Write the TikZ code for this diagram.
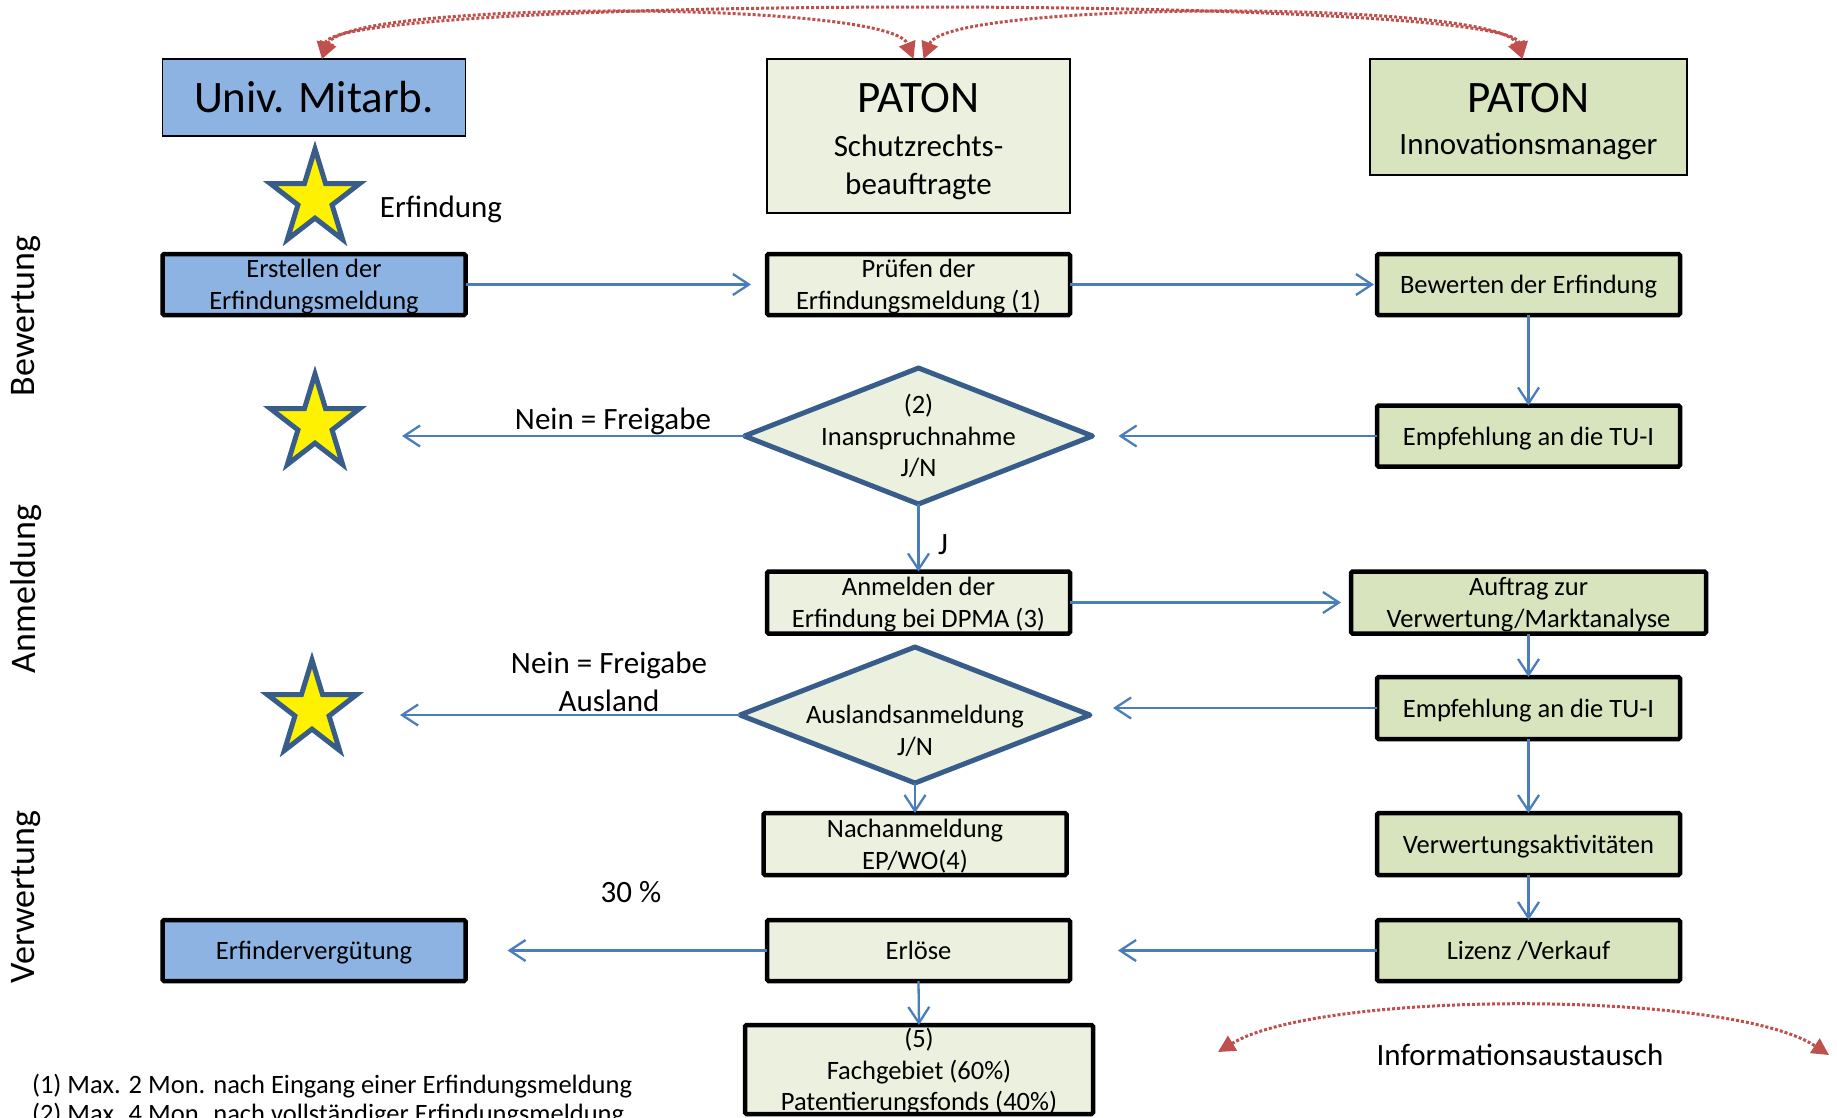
\documentclass[tikz,border=0pt]{standalone}
\usepackage{fontspec}
\setmainfont{Carlito}
\usetikzlibrary{shapes.geometric,arrows.meta}
\definecolor{univblue}{HTML}{8DB3E2}
\definecolor{palegreen}{HTML}{EBF1DE}
\definecolor{midgreen}{HTML}{D7E4BD}
\definecolor{darkblue}{HTML}{385D8A}
\definecolor{arrowblue}{HTML}{4A7EBB}
\definecolor{infored}{HTML}{C0504D}
\begin{document}
\begin{tikzpicture}[x=1pt,y=-1pt,
  every node/.style={inner sep=0pt,outer sep=0pt},
  bodytext/.style={font=\fontsize{26.5}{31.6}\selectfont,align=center},
  labeltext/.style={font=\fontsize{31}{37}\selectfont,align=center},
  sidetext/.style={font=\fontsize{36}{40}\selectfont,rotate=90},
  flowbox/.style={bodytext,text depth=0pt,draw=black,line width=4.5pt,rounded corners=1.5pt,minimum width=303pt,minimum height=61pt},
  leftbox/.style={flowbox,fill=univblue},
  midbox/.style={flowbox,fill=palegreen},
  rightbox/.style={flowbox,fill=midgreen},
  headbox/.style={draw=black,line width=1.6pt,minimum width=303pt},
  decision/.style={diamond,draw=darkblue,fill=palegreen,line width=5pt,line join=round,minimum width=348pt,minimum height=136pt},
  starshape/.style={star,star points=5,star point ratio=2.618,minimum size=100pt,xscale=0.94,draw=darkblue,fill=yellow,line width=5pt},
  flow/.style={draw=arrowblue,line width=2.3pt,-{Straight Barb[length=16pt,width=21pt,line width=2.3pt]}},
  infoarrow/.style={draw=infored,line width=3pt,dash pattern=on 3pt off 2pt,
    {Triangle[length=17pt,width=17pt]}-{Triangle[length=17pt,width=17pt]}}
]
\fill[white] (0,0) rectangle (1837,1117);
\useasboundingbox (0,0) rectangle (1837,1117);

% header boxes
\node[headbox,fill=univblue,minimum height=77pt,font=\fontsize{45}{54}\selectfont] (univ) at (314,97.5) {Univ. Mitarb.};
\node[headbox,fill=palegreen,minimum height=154pt] (p1) at (918.5,136) {};
\node[headbox,fill=midgreen,minimum width=317pt,minimum height=116pt] (p2) at (1528.5,117) {};
\node[font=\fontsize{45}{54}\selectfont] (p1a) at (918.5,98) {PATON};
\node[labeltext] (p1b) at (918.5,146) {Schutzrechts-};
\node[labeltext] (p1c) at (918.5,186) {beauftragte};
\node[font=\fontsize{45}{54}\selectfont] (p2a) at (1528.5,98) {PATON};
\node[labeltext] (p2b) at (1528.5,146) {Innovationsmanager};

% top information arcs
\draw[infoarrow] ([xshift=8pt]univ.north) .. controls (345,0) and (890,0) .. ([xshift=-5pt]p1.north);
\draw[infoarrow] ([xshift=5pt]p1.north) .. controls (947,0) and (1500,0) .. ([xshift=-6pt]p2.north);
\draw[infoarrow] ([xshift=8pt]univ.north) .. controls (335,-5) and (1510,-5) .. ([xshift=-6pt]p2.north);

% side labels
\node[sidetext] (lbew) at (26,316) {Bewertung};
\node[sidetext] (lanm) at (26,589) {Anmeldung};
\node[sidetext] (lver) at (26,897) {Verwertung};

% stars
\node[starshape] (s1) at (315,199) {};
\node[labeltext] (erf) at (441,209) {Erfindung};
\node[starshape] (s2) at (315,424) {};
\node[starshape] (s3) at (312,710) {};

% row 1
\node[leftbox] (erst) at (314,284.5) {Erstellen der\\Erfindungsmeldung};
\node[midbox] (pruef) at (918.5,284.5) {Prüfen der\\Erfindungsmeldung (1)};
\node[rightbox] (bew) at (1528.5,284.5) {Bewerten der Erfindung};

% row 2
\node[decision] (d1) at (918.5,436) {};
\node[bodytext] (d1t) at (918.5,436) {(2)\\Inanspruchnahme\\J/N};
\node[rightbox] (emp1) at (1528.5,436) {Empfehlung an die TU-I};
\node[labeltext] (nein1) at (613,421) {Nein = Freigabe};
\coordinate (n1) at (402,436);

% row 3
\node[labeltext] (jlab) at (943,545) {J};
\node[midbox,minimum height=62pt] (anm) at (918.5,602.5) {Anmelden der\\Erfindung bei DPMA (3)};
\node[rightbox,minimum width=355pt,minimum height=62pt] (auf) at (1528.5,602.5) {Auftrag zur\\Verwertung/Marktanalyse};

% row 4
\node[decision,minimum width=350pt] (d2) at (915,715) {};
\node[bodytext] (d2t) at (915,731) {Auslandsanmeldung\\J/N};
\node[rightbox,minimum height=62pt] (emp2) at (1528.5,708) {Empfehlung an die TU-I};
\node[labeltext,font=\fontsize{31}{37.5}\selectfont] (nein2) at (609,682) {Nein = Freigabe\\Ausland};
\coordinate (n2) at (400,715);

% row 5
\node[midbox,minimum height=62pt] (nach) at (915,844) {Nachanmeldung\\EP/WO(4)};
\node[rightbox,minimum height=62pt] (verw) at (1528.5,844) {Verwertungsaktivitäten};

% row 6
\node[labeltext] (dreissig) at (631,892) {30 \%};
\node[leftbox] (erfv) at (314,950.5) {Erfindervergütung};
\node[midbox] (erl) at (918.5,950.5) {Erlöse};
\node[rightbox] (liz) at (1528.5,950.5) {Lizenz /Verkauf};

% row 7
\node[midbox,minimum width=348pt,minimum height=89pt] (fund) at (919,1069.5) {(5)\\Fachgebiet (60\%)\\Patentierungsfonds (40\%)};
\node[anchor=west,font=\fontsize{26.5}{30}\selectfont] (fn1) at (32,1086) {(1) Max. 2 Mon. nach Eingang einer Erfindungsmeldung};
\node[anchor=west,font=\fontsize{26.5}{30}\selectfont] (fn2) at (32,1115) {(2) Max. 4 Mon. nach vollständiger Erfindungsmeldung};

% bottom information arc
\coordinate (ia) at (1218,1052);
\coordinate (ib) at (1829,1055);
\draw[infoarrow] (ia) .. controls (1320,990) and (1730,990) .. (ib);
\node[labeltext] (info) at (1520,1055) {Informationsaustausch};

% connectors
\draw[flow,shorten >=16pt] (erst.east) -- (pruef.west);
\draw[flow,shorten >=3pt] (pruef.east) -- (bew.west);
\draw[flow] (bew.south) -- (emp1.north);
\draw[flow] (emp1.west) -- ([xshift=26pt]d1.east |- emp1.west);
\draw[flow] (d1.west) -- (n1);
\draw[flow] (d1.south) -- (anm.north);
\draw[flow,shorten >=10pt] (anm.east) -- (auf.west);
\draw[flow] (auf.south) -- (emp2.north);
\draw[flow] (emp2.west) -- ([xshift=23pt]d2.east |- emp2.west);
\draw[flow] (d2.west) -- (n2);
\draw[flow] (d2.south) -- (nach.north);
\draw[flow] (emp2.south) -- (verw.north);
\draw[flow] (verw.south) -- (liz.north);
\draw[flow,shorten >=48pt] (liz.west) -- (erl.east);
\draw[flow,shorten >=42pt] (erl.west) -- (erfv.east);
\draw[flow] (erl.south) -- (fund.north);
\end{tikzpicture}
\end{document}
